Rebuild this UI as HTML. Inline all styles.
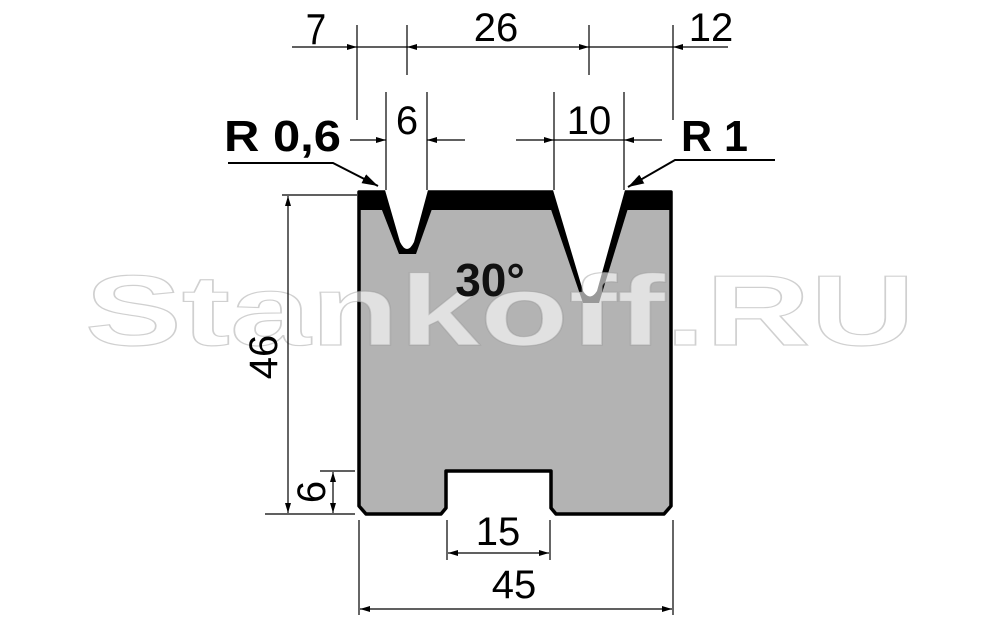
<!DOCTYPE html>
<html><head><meta charset="utf-8"><style>
html,body{margin:0;padding:0;background:#fff;}
svg{display:block;}
text{font-family:"Liberation Sans","DejaVu Sans",sans-serif;}
</style></head><body>
<svg width="1000" height="618" viewBox="0 0 1000 618" xmlns="http://www.w3.org/2000/svg">
<defs>
<marker id="a" viewBox="0 0 10 6" refX="10" refY="3" markerWidth="10" markerHeight="6" orient="auto" markerUnits="userSpaceOnUse"><path d="M0,0 L10,3 L0,6 z" fill="#000"/></marker>
<marker id="b" viewBox="0 0 16 10" refX="16" refY="5" markerWidth="16" markerHeight="10" orient="auto" markerUnits="userSpaceOnUse"><path d="M0,0 L16,5 L0,10 z" fill="#000"/></marker>
</defs>

<path d="M359,192 L671,192 L671,506 L664,514 L556,514 L551,508 L551,471 L446,471 L446,508 L441,514 L366,514 L359,506 Z" fill="#b3b3b3" stroke="#000" stroke-width="3.5" stroke-linejoin="round"/>
<rect x="359" y="191" width="312" height="19" fill="#000"/>
<path d="M375,192 L399,254 L416,254 L438,192 Z" fill="#000"/>
<path d="M545,192 L583,303 L599,303 L633,192 Z" fill="#000"/>
<path d="M385,190 L400,242 Q407,256 414,242 L428,190 Z" fill="#fff"/>
<path d="M553,190 L583,291 Q590,302 597,291 L625,190 Z" fill="#fff"/>

<text x="85" y="345" font-size="100" font-weight="bold" textLength="830" lengthAdjust="spacingAndGlyphs" fill="rgba(255,255,255,0.6)" stroke="rgba(150,150,150,0.45)" stroke-width="1.2">Stankoff.RU</text>

<text x="490" y="296" font-size="46" font-weight="bold" text-anchor="middle" fill="#111">30°</text>

<g stroke="#000" stroke-width="1.2" fill="none">
<line x1="357" y1="25" x2="357" y2="120"/>
<line x1="407" y1="25" x2="407" y2="75"/>
<line x1="589" y1="25" x2="589" y2="75"/>
<line x1="673" y1="25" x2="673" y2="120"/>
<line x1="292" y1="47" x2="357" y2="47" marker-end="url(#a)"/>
<line x1="357" y1="47" x2="407" y2="47"/>
<line x1="480" y1="47" x2="407" y2="47" marker-end="url(#a)"/>
<line x1="480" y1="47" x2="589" y2="47" marker-end="url(#a)"/>
<line x1="589" y1="47" x2="673" y2="47"/>
<line x1="728" y1="47" x2="673" y2="47" marker-end="url(#a)"/>
<line x1="386" y1="92" x2="386" y2="190"/>
<line x1="427" y1="92" x2="427" y2="190"/>
<line x1="554" y1="92" x2="554" y2="190"/>
<line x1="624" y1="92" x2="624" y2="190"/>
<line x1="350" y1="140" x2="386" y2="140" marker-end="url(#a)"/>
<line x1="465" y1="140" x2="427" y2="140" marker-end="url(#a)"/>
<line x1="516" y1="140" x2="554" y2="140" marker-end="url(#a)"/>
<line x1="554" y1="140" x2="624" y2="140"/>
<line x1="662" y1="140" x2="624" y2="140" marker-end="url(#a)"/>
<polyline points="228,163 333,163 378,186" stroke-width="2" marker-end="url(#b)"/>
<polyline points="775,160 675,160 628,187" stroke-width="2" marker-end="url(#b)"/>
<line x1="282" y1="195" x2="357" y2="195"/>
<line x1="265" y1="514" x2="355" y2="514"/>
<line x1="320" y1="471" x2="355" y2="471"/>
<line x1="288" y1="300" x2="288" y2="196" marker-end="url(#a)"/>
<line x1="288" y1="300" x2="288" y2="513" marker-end="url(#a)"/>
<line x1="333" y1="492" x2="333" y2="472" marker-end="url(#a)"/>
<line x1="333" y1="492" x2="333" y2="513" marker-end="url(#a)"/>
<line x1="359" y1="520" x2="359" y2="615"/>
<line x1="673" y1="520" x2="673" y2="615"/>
<line x1="447" y1="520" x2="447" y2="560"/>
<line x1="550" y1="520" x2="550" y2="560"/>
<line x1="500" y1="553" x2="448" y2="553" marker-end="url(#a)"/>
<line x1="500" y1="553" x2="549" y2="553" marker-end="url(#a)"/>
<line x1="500" y1="609" x2="360" y2="609" marker-end="url(#a)"/>
<line x1="500" y1="609" x2="672" y2="609" marker-end="url(#a)"/>
</g>

<g fill="#000" font-size="40" text-anchor="middle">
<text x="316" y="41" transform="translate(316,0) scale(0.92,1.08) translate(-316,0)">7</text>
<text x="496" y="41">26</text>
<text x="711" y="41">12</text>
<text x="407" y="134">6</text>
<text x="589" y="134">10</text>
<text x="498" y="545">15</text>
<text x="514" y="598">45</text>
<text transform="translate(277,357) rotate(-90)">46</text>
<text transform="translate(325,492) rotate(-90)">6</text>
</g>
<g fill="#000" font-size="44" font-weight="bold">
<text x="224" y="151" textLength="117" lengthAdjust="spacingAndGlyphs">R 0,6</text>
<text x="681" y="151" textLength="67" lengthAdjust="spacingAndGlyphs">R 1</text>
</g>
</svg>
</body></html>
